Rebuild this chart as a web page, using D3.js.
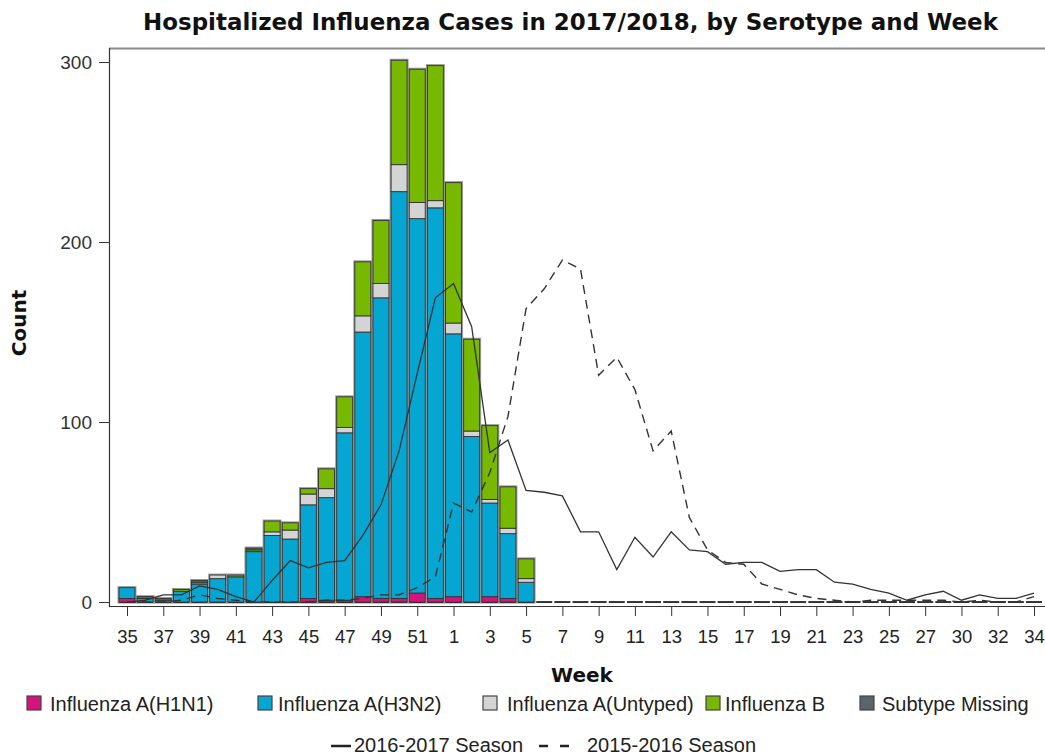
<!DOCTYPE html>
<html><head><meta charset="utf-8">
<script src="https://cdn.jsdelivr.net/npm/d3@7/dist/d3.min.js"></script>
<style>body{margin:0;background:#fff}svg{display:block}</style>
</head><body><svg id="chart" width="1045" height="756"></svg>
<script>
// ---- data ----
const weeks = ["35","36","37","38","39","40","41","42","43","44","45","46","47","48","49","50","51","52",
  "1","2","3","4","5","6","7","8","9","10","11","12","13","14","15","16","17","18","19","20","21","22","23","24","25","26","27","28","30","31","32","33","34"];
const h1n1     = [2,0,0,0,0,0,0,0,0,0,2,1,1,3,2,2,5,2,3,0,3,2,0, 0,0,0,0,0,0,0,0,0,0,0,0,0,0,0,0,0,0,0,0,0,0,0,0,0,0,0,0];
const h3n2     = [6,2,1,6,10,13,14,28,37,35,52,57,93,147,167,226,208,217,146,92,52,36,11, 0,0,0,0,0,0,0,0,0,0,0,0,0,0,0,0,0,0,0,0,0,0,0,0,0,0,0,0];
const untyped  = [0,0,0,0,0,2,0,0,2,5,6,5,3,9,8,15,9,4,6,3,2,3,2, 0,0,0,0,0,0,0,0,0,0,0,0,0,0,0,0,0,0,0,0,0,0,0,0,0,0,0,0];
const fluB     = [0,0,0,1,1,0,1,1,6,4,3,11,17,30,35,58,74,75,78,51,41,23,11, 0,0,0,0,0,0,0,0,0,0,0,0,0,0,0,0,0,0,0,0,0,0,0,0,0,0,0,0];
const missing  = [0,1,1,0,1,0,0,1,0,0,0,0,0,0,0,0,0,0,0,0,0,0,0, 0,0,0,0,0,0,0,0,0,0,0,0,0,0,0,0,0,0,0,0,0,0,0,0,0,0,0,0];
const season2016_2017 = [0,1,4,4,9,7,3,0,12,23,19,22,23,37,54,84,127,169,177,153,83,90,62,61,59,39,39,18,36,25,39,29,28,21,22,22,17,18,18,11,10,7,5,1,4,6,1,4,2,2,5];
const season2015_2016 = [0,0,0,1,4,2,1,0,0,0,0,1,1,2,4,4,8,14,55,50,72,103,163,174,190,185,126,136,118,84,95,47,29,22,21,10,7,4,2,1,0,1,1,1,1,1,0,1,0,0,3];
const yTicks = [0,100,200,300];
const seriesNames = ["Influenza A(H1N1)","Influenza A(H3N2)","Influenza A(Untyped)","Influenza B","Subtype Missing"];
const seriesColors = ["#d6137b","#06a6d2","#d4d4d4","#77b800","#5b646d"];
const lineNames = ["2016-2017 Season","2015-2016 Season"];
const titleText = "Hospitalized Influenza Cases in 2017/2018, by Serotype and Week";

// ---- chart ----
const svg = d3.select("#chart");
const FONT = "'Liberation Sans', Arial, sans-serif";
const BOLD = "'DejaVu Sans', sans-serif";

const x = d3.scalePoint().domain(weeks).range([127, 1034]);
const step = x.step();
const bw = step * 0.88;
const y = d3.scaleLinear().domain([-2.2, 307.8]).range([606, 48]);

const keys = ["h1n1","h3n2","untyped","fluB","missing"];
const arrs = [h1n1,h3n2,untyped,fluB,missing];
const table = weeks.map((w,i)=>{const o={week:w}; keys.forEach((k,j)=>o[k]=arrs[j][i]); return o;});
const stacked = d3.stack().keys(keys)(table);

// top border line
svg.append("line").attr("x1",109).attr("x2",1045).attr("y1",48.5).attr("y2",48.5)
  .attr("stroke","#8a8a8a").attr("stroke-width",2);

// bar halos
const totals = table.map(d=>keys.reduce((s,k)=>s+d[k],0));
svg.append("g").selectAll("rect").data(table).join("rect")
  .attr("x",d=>x(d.week)-bw/2).attr("width",bw)
  .attr("y",(d,i)=>y(totals[i])).attr("height",(d,i)=>Math.max(0.01,y(0)-y(totals[i])))
  .attr("fill","none").attr("stroke",(d,i)=>totals[i]>0?"#9a9a9a":"none").attr("stroke-width",3);

// zero baselines per bar
svg.append("g").selectAll("line").data(table).join("line")
  .attr("x1",d=>x(d.week)-bw/2).attr("x2",d=>x(d.week)+bw/2)
  .attr("y1",y(0)).attr("y2",y(0)).attr("stroke","#333").attr("stroke-width",2);

// stacked segments
svg.append("g").selectAll("g").data(stacked).join("g")
  .attr("fill",(d,i)=>seriesColors[i])
  .selectAll("rect").data(d=>d.filter(s=>s[1]-s[0]>0)).join("rect")
  .attr("x",d=>x(d.data.week)-bw/2).attr("width",bw)
  .attr("y",d=>y(d[1])).attr("height",d=>y(d[0])-y(d[1]))
  .attr("stroke","#333").attr("stroke-width",0.9);

// lines
const line = d3.line().x((d,i)=>x(weeks[i])).y(d=>y(d));
svg.append("path").datum(season2016_2017).attr("d",line)
  .attr("fill","none").attr("stroke","#333").attr("stroke-width",1.3);
svg.append("path").datum(season2015_2016).attr("d",line)
  .attr("fill","none").attr("stroke","#333").attr("stroke-width",1.4).attr("stroke-dasharray","9,6");

// axes
const xAxis = d3.axisBottom(x).tickValues(weeks.filter((d,i)=>i%2===0)).tickSize(10).tickPadding(14);
const gx = svg.append("g").attr("transform","translate(0,606)").call(xAxis);
gx.select(".domain").remove();
gx.selectAll(".tick line").attr("stroke","#333");
gx.selectAll(".tick text").attr("font-family",FONT).attr("font-size",18.5).attr("fill","#222");
svg.append("line").attr("x1",109).attr("x2",1045).attr("y1",606.5).attr("y2",606.5).attr("stroke","#333").attr("stroke-width",1.2);

const yAxis = d3.axisLeft(y).tickValues(yTicks).tickSize(10).tickPadding(7);
const gy = svg.append("g").attr("transform","translate(109,0)").call(yAxis);
gy.select(".domain").remove();
gy.selectAll(".tick line").attr("stroke","#333");
gy.selectAll(".tick text").attr("font-family",FONT).attr("font-size",19).attr("fill","#333");
svg.append("line").attr("x1",109.5).attr("x2",109.5).attr("y1",48).attr("y2",607).attr("stroke","#333").attr("stroke-width",1.2);

// title
const title = svg.append("text").attr("x",570.5).attr("y",30).attr("text-anchor","middle")
  .attr("font-family",BOLD).attr("font-weight","bold").attr("font-size",22).attr("fill","#111").text(titleText);
const tl = title.node().getComputedTextLength();
title.attr("font-size",22*855/tl);

// axis titles
svg.append("text").attr("x",582).attr("y",682).attr("text-anchor","middle")
  .attr("font-family",BOLD).attr("font-weight","bold").attr("font-size",20).attr("fill","#111").text("Week");
svg.append("text").attr("transform","translate(26,323) rotate(-90)").attr("text-anchor","middle")
  .attr("font-family",BOLD).attr("font-weight","bold").attr("font-size",20).attr("fill","#111").text("Count");

// legend row 1
const lgSq = [27,258,483,706,860];
const lgTx = [50,278,507,725,882];
const lg = svg.append("g");
seriesNames.forEach((n,i)=>{
  lg.append("rect").attr("x",lgSq[i]).attr("y",696).attr("width",14).attr("height",14)
    .attr("fill",seriesColors[i]).attr("stroke","#444").attr("stroke-width",1.2);
  lg.append("text").attr("x",lgTx[i]).attr("y",711).attr("font-family",FONT).attr("font-size",20)
    .attr("fill","#222").text(n);
});
// legend row 2
lg.append("line").attr("x1",331).attr("x2",351).attr("y1",746).attr("y2",746).attr("stroke","#222").attr("stroke-width",2.5);
lg.append("text").attr("x",354).attr("y",752).attr("font-family",FONT).attr("font-size",20).attr("fill","#222").text(lineNames[0]);
lg.append("line").attr("x1",539).attr("x2",569).attr("y1",746).attr("y2",746).attr("stroke","#222").attr("stroke-width",2.5).attr("stroke-dasharray","9,12");
lg.append("text").attr("x",587).attr("y",752).attr("font-family",FONT).attr("font-size",20).attr("fill","#222").text(lineNames[1]);
</script>
</body></html>
